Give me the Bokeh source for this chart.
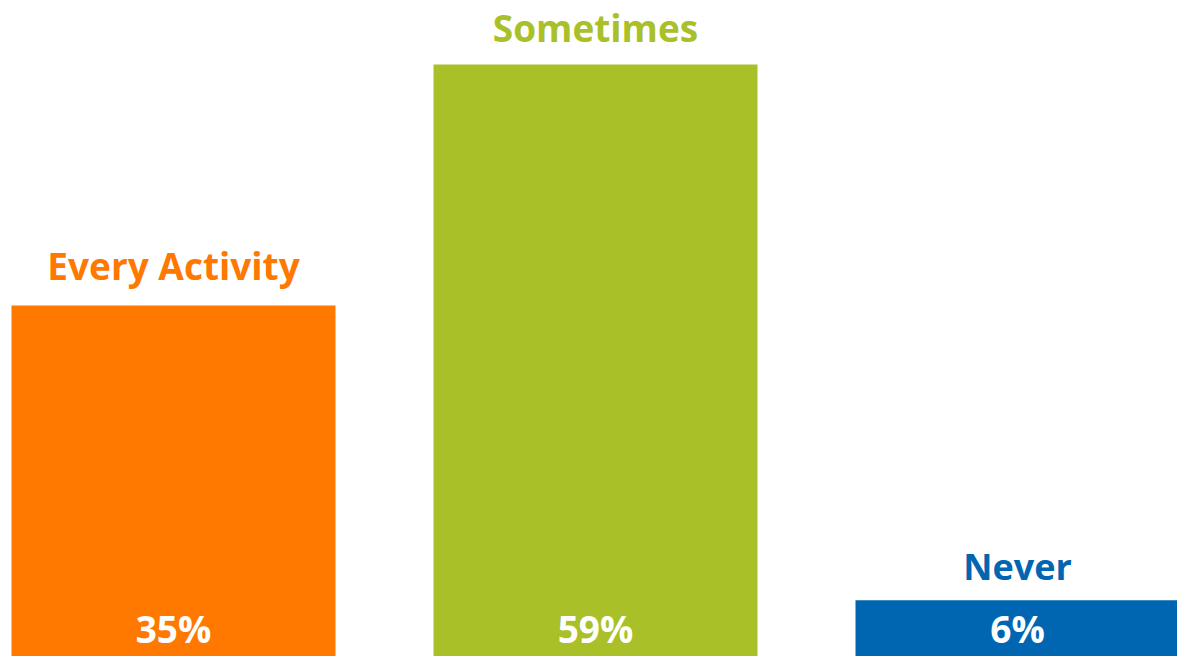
from bokeh.plotting import figure
from bokeh.models import ColumnDataSource, Range1d
from bokeh.core.properties import value
from bokeh.embed import file_html
from bokeh.resources import INLINE

categories = ["Every Activity", "Sometimes", "Never"]
percents = [35, 59, 5.6]
colors = ["#FF7800", "#A9C028", "#0066B2"]

xs = list(range(len(categories)))
pct_labels = [f"{v:.0f}%" for v in percents]

# styling (not data)
label_offsets = [-40, -37, -34]
label_sizes = ["37px", "37px", "36px"]

src = ColumnDataSource(dict(x=xs, top=percents, color=colors, cat=categories,
                            pct=pct_labels, off=label_offsets, size=label_sizes,
                            zero=[0] * len(xs)))

W, H = 1177, 656
PX = 422.0
p = figure(width=W, height=H, output_backend="svg", toolbar_location=None,
           x_range=Range1d(-173 / PX, -173 / PX + W / PX),
           y_range=Range1d(0, H / 10.032),
           min_border=0, min_border_left=0, min_border_right=0,
           min_border_top=0, min_border_bottom=0)
p.axis.visible = False
p.grid.visible = False
p.outline_line_color = None
p.background_fill_color = "white"
p.border_fill_color = "white"

p.vbar(x="x", top="top", bottom=0, width=324 / PX, color="color", source=src, line_color=None)

p.text(x="x", y="top", text="cat", y_offset="off", text_align="center",
       text_baseline="alphabetic", text_color="color", text_font=value("Open Sans"),
       text_font_style="bold", text_font_size="size", source=src)

p.text(x="x", y="zero", text="pct", y_offset=-28, text_align="center",
       text_baseline="alphabetic", text_color="white", text_font=value("Open Sans"),
       text_font_style="bold", text_font_size="37px", source=src)

open("out.html", "w").write(file_html(p, INLINE))
